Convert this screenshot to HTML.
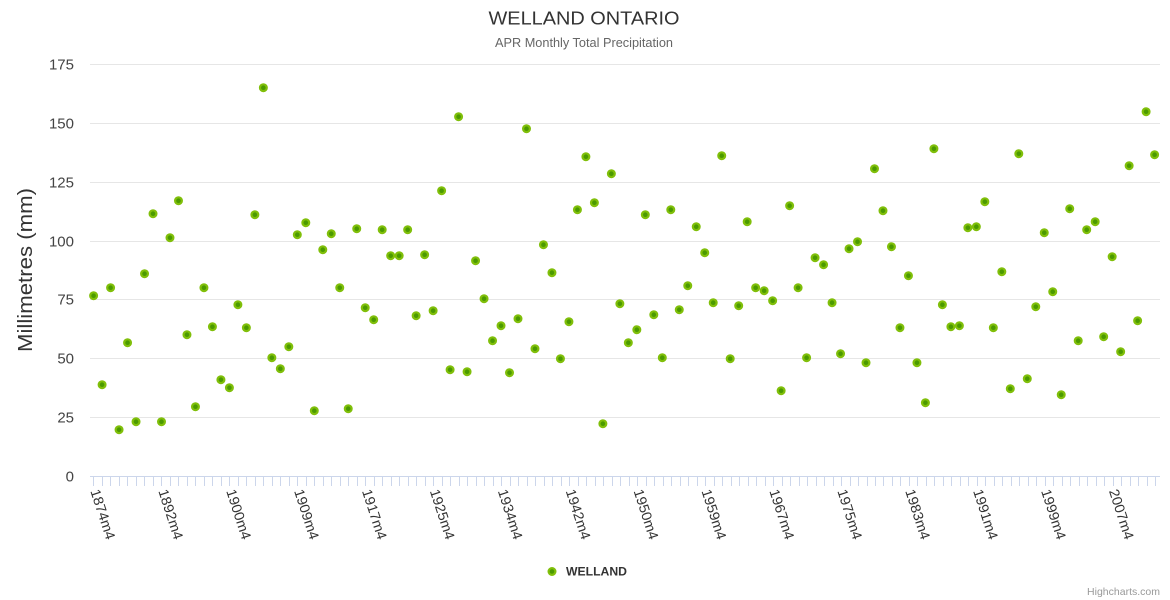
<!DOCTYPE html>
<html><head><meta charset="utf-8"><style>
html,body{margin:0;padding:0;background:#fff;}
svg{display:block;font-family:"Liberation Sans",sans-serif;}
</style></head><body>
<svg width="1170" height="600" viewBox="0 0 1170 600" xmlns="http://www.w3.org/2000/svg">
<rect width="1170" height="600" fill="#fff"/>
<text x="584" y="24.5" text-anchor="middle" font-size="18" fill="#333" textLength="191" lengthAdjust="spacingAndGlyphs">WELLAND ONTARIO</text>
<text x="584" y="47" text-anchor="middle" font-size="13" fill="#666" textLength="178" lengthAdjust="spacingAndGlyphs">APR Monthly Total Precipitation</text>
<g stroke="#e6e6e6" stroke-width="1" shape-rendering="crispEdges">
<line x1="90" x2="1160" y1="64.5" y2="64.5"/>
<line x1="90" x2="1160" y1="123.5" y2="123.5"/>
<line x1="90" x2="1160" y1="182.5" y2="182.5"/>
<line x1="90" x2="1160" y1="241.5" y2="241.5"/>
<line x1="90" x2="1160" y1="299.5" y2="299.5"/>
<line x1="90" x2="1160" y1="358.5" y2="358.5"/>
<line x1="90" x2="1160" y1="417.5" y2="417.5"/>
</g>
<g font-size="15" fill="#444" text-anchor="end">
<text x="74" y="69.5">175</text>
<text x="74" y="128.5">150</text>
<text x="74" y="187.5">125</text>
<text x="74" y="246.5">100</text>
<text x="74" y="304.5">75</text>
<text x="74" y="363.5">50</text>
<text x="74" y="422.5">25</text>
<text x="74" y="481.5">0</text>
</g>
<text transform="translate(32,270) rotate(-90)" text-anchor="middle" font-size="20" fill="#333" textLength="164" lengthAdjust="spacingAndGlyphs">Millimetres (mm)</text>
<line x1="90" x2="1160" y1="476.5" y2="476.5" stroke="#ccd6eb" stroke-width="1" shape-rendering="crispEdges"/>
<path stroke="#ccd6eb" stroke-width="1" fill="none" shape-rendering="crispEdges" d="M93.5 477V486M102.5 477V486M110.5 477V486M119.5 477V486M127.5 477V486M136.5 477V486M144.5 477V486M153.5 477V486M161.5 477V486M170.5 477V486M178.5 477V486M187.5 477V486M195.5 477V486M204.5 477V486M212.5 477V486M221.5 477V486M229.5 477V486M238.5 477V486M246.5 477V486M255.5 477V486M263.5 477V486M272.5 477V486M280.5 477V486M289.5 477V486M297.5 477V486M306.5 477V486M314.5 477V486M323.5 477V486M331.5 477V486M340.5 477V486M348.5 477V486M357.5 477V486M365.5 477V486M374.5 477V486M382.5 477V486M391.5 477V486M399.5 477V486M408.5 477V486M416.5 477V486M425.5 477V486M433.5 477V486M442.5 477V486M450.5 477V486M459.5 477V486M467.5 477V486M476.5 477V486M484.5 477V486M493.5 477V486M501.5 477V486M510.5 477V486M518.5 477V486M527.5 477V486M535.5 477V486M544.5 477V486M552.5 477V486M561.5 477V486M569.5 477V486M578.5 477V486M586.5 477V486M595.5 477V486M603.5 477V486M612.5 477V486M620.5 477V486M629.5 477V486M637.5 477V486M646.5 477V486M654.5 477V486M663.5 477V486M671.5 477V486M680.5 477V486M688.5 477V486M697.5 477V486M705.5 477V486M714.5 477V486M722.5 477V486M731.5 477V486M739.5 477V486M748.5 477V486M756.5 477V486M765.5 477V486M773.5 477V486M782.5 477V486M790.5 477V486M799.5 477V486M807.5 477V486M816.5 477V486M824.5 477V486M833.5 477V486M841.5 477V486M850.5 477V486M858.5 477V486M867.5 477V486M875.5 477V486M883.5 477V486M892.5 477V486M900.5 477V486M909.5 477V486M917.5 477V486M926.5 477V486M934.5 477V486M943.5 477V486M951.5 477V486M960.5 477V486M968.5 477V486M977.5 477V486M985.5 477V486M994.5 477V486M1002.5 477V486M1011.5 477V486M1019.5 477V486M1028.5 477V486M1036.5 477V486M1045.5 477V486M1053.5 477V486M1062.5 477V486M1070.5 477V486M1079.5 477V486M1087.5 477V486M1096.5 477V486M1104.5 477V486M1113.5 477V486M1121.5 477V486M1130.5 477V486M1138.5 477V486M1147.5 477V486M1155.5 477V486"/>
<g font-size="14" fill="#333">
<text transform="translate(90.3,491) rotate(72)" textLength="52" lengthAdjust="spacingAndGlyphs">1874m4</text>
<text transform="translate(158.2,491) rotate(72)" textLength="52" lengthAdjust="spacingAndGlyphs">1892m4</text>
<text transform="translate(226.1,491) rotate(72)" textLength="52" lengthAdjust="spacingAndGlyphs">1900m4</text>
<text transform="translate(294.0,491) rotate(72)" textLength="52" lengthAdjust="spacingAndGlyphs">1909m4</text>
<text transform="translate(361.9,491) rotate(72)" textLength="52" lengthAdjust="spacingAndGlyphs">1917m4</text>
<text transform="translate(429.8,491) rotate(72)" textLength="52" lengthAdjust="spacingAndGlyphs">1925m4</text>
<text transform="translate(497.7,491) rotate(72)" textLength="52" lengthAdjust="spacingAndGlyphs">1934m4</text>
<text transform="translate(565.6,491) rotate(72)" textLength="52" lengthAdjust="spacingAndGlyphs">1942m4</text>
<text transform="translate(633.5,491) rotate(72)" textLength="52" lengthAdjust="spacingAndGlyphs">1950m4</text>
<text transform="translate(701.4,491) rotate(72)" textLength="52" lengthAdjust="spacingAndGlyphs">1959m4</text>
<text transform="translate(769.3,491) rotate(72)" textLength="52" lengthAdjust="spacingAndGlyphs">1967m4</text>
<text transform="translate(837.2,491) rotate(72)" textLength="52" lengthAdjust="spacingAndGlyphs">1975m4</text>
<text transform="translate(905.1,491) rotate(72)" textLength="52" lengthAdjust="spacingAndGlyphs">1983m4</text>
<text transform="translate(973.0,491) rotate(72)" textLength="52" lengthAdjust="spacingAndGlyphs">1991m4</text>
<text transform="translate(1041.0,491) rotate(72)" textLength="52" lengthAdjust="spacingAndGlyphs">1999m4</text>
<text transform="translate(1108.9,491) rotate(72)" textLength="52" lengthAdjust="spacingAndGlyphs">2007m4</text>
</g>
<g fill="#4b9a00" stroke="#80bf0a" stroke-width="2.2">
<circle r="3.4" cx="93.6" cy="295.7"/><circle r="3.4" cx="102.09" cy="384.7"/><circle r="3.4" cx="110.58" cy="287.7"/><circle r="3.4" cx="119.06" cy="429.7"/><circle r="3.4" cx="127.55" cy="342.7"/><circle r="3.4" cx="136.04" cy="421.7"/><circle r="3.4" cx="144.53" cy="273.7"/><circle r="3.4" cx="153.02" cy="213.7"/><circle r="3.4" cx="161.50" cy="421.7"/><circle r="3.4" cx="169.99" cy="237.7"/>
<circle r="3.4" cx="178.48" cy="200.7"/><circle r="3.4" cx="186.97" cy="334.7"/><circle r="3.4" cx="195.46" cy="406.7"/><circle r="3.4" cx="203.94" cy="287.7"/><circle r="3.4" cx="212.43" cy="326.7"/><circle r="3.4" cx="220.92" cy="379.7"/><circle r="3.4" cx="229.41" cy="387.7"/><circle r="3.4" cx="237.90" cy="304.7"/><circle r="3.4" cx="246.38" cy="327.7"/><circle r="3.4" cx="254.87" cy="214.7"/>
<circle r="3.4" cx="263.36" cy="87.7"/><circle r="3.4" cx="271.85" cy="357.7"/><circle r="3.4" cx="280.34" cy="368.7"/><circle r="3.4" cx="288.82" cy="346.7"/><circle r="3.4" cx="297.31" cy="234.7"/><circle r="3.4" cx="305.80" cy="222.7"/><circle r="3.4" cx="314.29" cy="410.7"/><circle r="3.4" cx="322.78" cy="249.7"/><circle r="3.4" cx="331.26" cy="233.7"/><circle r="3.4" cx="339.75" cy="287.7"/>
<circle r="3.4" cx="348.24" cy="408.7"/><circle r="3.4" cx="356.73" cy="228.7"/><circle r="3.4" cx="365.22" cy="307.7"/><circle r="3.4" cx="373.70" cy="319.7"/><circle r="3.4" cx="382.19" cy="229.7"/><circle r="3.4" cx="390.68" cy="255.7"/><circle r="3.4" cx="399.17" cy="255.7"/><circle r="3.4" cx="407.66" cy="229.7"/><circle r="3.4" cx="416.14" cy="315.7"/><circle r="3.4" cx="424.63" cy="254.7"/>
<circle r="3.4" cx="433.12" cy="310.7"/><circle r="3.4" cx="441.61" cy="190.7"/><circle r="3.4" cx="450.10" cy="369.7"/><circle r="3.4" cx="458.58" cy="116.7"/><circle r="3.4" cx="467.07" cy="371.7"/><circle r="3.4" cx="475.56" cy="260.7"/><circle r="3.4" cx="484.05" cy="298.7"/><circle r="3.4" cx="492.54" cy="340.7"/><circle r="3.4" cx="501.02" cy="325.7"/><circle r="3.4" cx="509.51" cy="372.7"/>
<circle r="3.4" cx="518.00" cy="318.7"/><circle r="3.4" cx="526.49" cy="128.7"/><circle r="3.4" cx="534.98" cy="348.7"/><circle r="3.4" cx="543.46" cy="244.7"/><circle r="3.4" cx="551.95" cy="272.7"/><circle r="3.4" cx="560.44" cy="358.7"/><circle r="3.4" cx="568.93" cy="321.7"/><circle r="3.4" cx="577.42" cy="209.7"/><circle r="3.4" cx="585.90" cy="156.7"/><circle r="3.4" cx="594.39" cy="202.7"/>
<circle r="3.4" cx="602.88" cy="423.7"/><circle r="3.4" cx="611.37" cy="173.7"/><circle r="3.4" cx="619.86" cy="303.7"/><circle r="3.4" cx="628.34" cy="342.7"/><circle r="3.4" cx="636.83" cy="329.7"/><circle r="3.4" cx="645.32" cy="214.7"/><circle r="3.4" cx="653.81" cy="314.7"/><circle r="3.4" cx="662.30" cy="357.7"/><circle r="3.4" cx="670.78" cy="209.7"/><circle r="3.4" cx="679.27" cy="309.7"/>
<circle r="3.4" cx="687.76" cy="285.7"/><circle r="3.4" cx="696.25" cy="226.7"/><circle r="3.4" cx="704.74" cy="252.7"/><circle r="3.4" cx="713.22" cy="302.7"/><circle r="3.4" cx="721.71" cy="155.7"/><circle r="3.4" cx="730.20" cy="358.7"/><circle r="3.4" cx="738.69" cy="305.7"/><circle r="3.4" cx="747.18" cy="221.7"/><circle r="3.4" cx="755.66" cy="287.7"/><circle r="3.4" cx="764.15" cy="290.7"/>
<circle r="3.4" cx="772.64" cy="300.7"/><circle r="3.4" cx="781.13" cy="390.7"/><circle r="3.4" cx="789.62" cy="205.7"/><circle r="3.4" cx="798.10" cy="287.7"/><circle r="3.4" cx="806.59" cy="357.7"/><circle r="3.4" cx="815.08" cy="257.7"/><circle r="3.4" cx="823.57" cy="264.7"/><circle r="3.4" cx="832.06" cy="302.7"/><circle r="3.4" cx="840.54" cy="353.7"/><circle r="3.4" cx="849.03" cy="248.7"/>
<circle r="3.4" cx="857.52" cy="241.7"/><circle r="3.4" cx="866.01" cy="362.7"/><circle r="3.4" cx="874.50" cy="168.7"/><circle r="3.4" cx="882.98" cy="210.7"/><circle r="3.4" cx="891.47" cy="246.7"/><circle r="3.4" cx="899.96" cy="327.7"/><circle r="3.4" cx="908.45" cy="275.7"/><circle r="3.4" cx="916.94" cy="362.7"/><circle r="3.4" cx="925.42" cy="402.7"/><circle r="3.4" cx="933.91" cy="148.7"/>
<circle r="3.4" cx="942.40" cy="304.7"/><circle r="3.4" cx="950.89" cy="326.7"/><circle r="3.4" cx="959.38" cy="325.7"/><circle r="3.4" cx="967.86" cy="227.7"/><circle r="3.4" cx="976.35" cy="226.7"/><circle r="3.4" cx="984.84" cy="201.7"/><circle r="3.4" cx="993.33" cy="327.7"/><circle r="3.4" cx="1001.82" cy="271.7"/><circle r="3.4" cx="1010.30" cy="388.7"/><circle r="3.4" cx="1018.79" cy="153.7"/>
<circle r="3.4" cx="1027.28" cy="378.7"/><circle r="3.4" cx="1035.77" cy="306.7"/><circle r="3.4" cx="1044.26" cy="232.7"/><circle r="3.4" cx="1052.74" cy="291.7"/><circle r="3.4" cx="1061.23" cy="394.7"/><circle r="3.4" cx="1069.72" cy="208.7"/><circle r="3.4" cx="1078.21" cy="340.7"/><circle r="3.4" cx="1086.70" cy="229.7"/><circle r="3.4" cx="1095.18" cy="221.7"/><circle r="3.4" cx="1103.67" cy="336.7"/>
<circle r="3.4" cx="1112.16" cy="256.7"/><circle r="3.4" cx="1120.65" cy="351.7"/><circle r="3.4" cx="1129.14" cy="165.7"/><circle r="3.4" cx="1137.62" cy="320.7"/><circle r="3.4" cx="1146.11" cy="111.7"/><circle r="3.4" cx="1154.60" cy="154.7"/>
</g>
<circle cx="552" cy="571.5" r="3.4" fill="#4b9a00" stroke="#80bf0a" stroke-width="2.2"/>
<text x="566" y="575.5" font-size="12" font-weight="bold" fill="#333" textLength="61" lengthAdjust="spacingAndGlyphs">WELLAND</text>
<text x="1160" y="595" text-anchor="end" font-size="10.5" fill="#999">Highcharts.com</text>
</svg>
</body></html>
